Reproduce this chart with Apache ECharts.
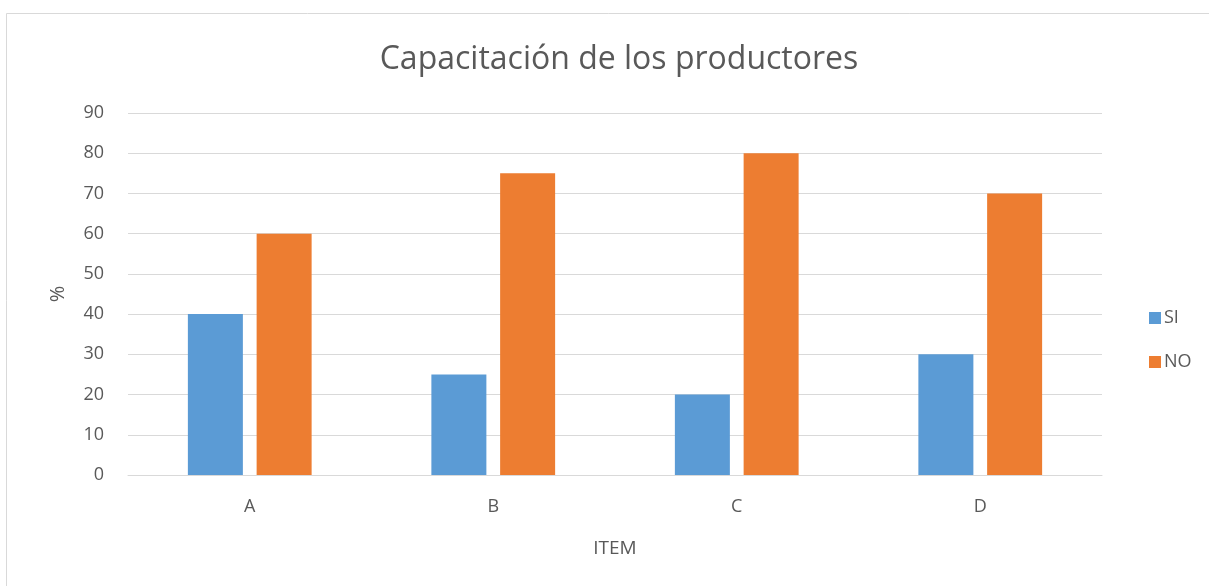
<!DOCTYPE html>
<html>
<head>
<meta charset="utf-8">
<script src="https://cdn.jsdelivr.net/npm/echarts@6/dist/echarts.min.js"></script>
<style>
  html, body { margin: 0; padding: 0; background: #ffffff; }
  #chart { width: 1209px; height: 586px; }
</style>
</head>
<body>
<div id="chart"></div>
<script>
// Training of producers: share answering SI / NO per item (%)
const categories = ['A', 'B', 'C', 'D'];
const siValues = [40, 25, 20, 30];
const noValues = [60, 75, 80, 70];
const seriesNames = ['SI', 'NO'];

const textColor = '#595959';
const fontFamily = '"Open Sans", "Liberation Sans", sans-serif';

const chart = echarts.init(document.getElementById('chart'));
chart.setOption({
  backgroundColor: '#ffffff',
  animation: false,
  textStyle: { fontFamily: fontFamily, color: textColor },
  graphic: [{
    type: 'rect',
    shape: { x: 6.5, y: 13.5, width: 1220, height: 600 },
    style: { fill: 'none', stroke: '#d9d9d9', lineWidth: 1 },
    silent: true,
    z: -1
  }],
  title: {
    text: 'Capacitación de los productores',
    left: 614,
    textAlign: 'center',
    top: 39,
    textStyle: { fontFamily: fontFamily, fontSize: 32, fontWeight: 'normal', color: textColor }
  },
  legend: {
    orient: 'vertical',
    left: 1144,
    top: 304,
    itemWidth: 12,
    itemHeight: 12,
    itemGap: 26,
    icon: 'rect',
    data: seriesNames,
    textStyle: { fontFamily: fontFamily, fontSize: 18, color: textColor, padding: [0, 0, 0, -2] }
  },
  grid: { left: 128, right: 107, top: 113, bottom: 111, containLabel: false },
  xAxis: {
    type: 'category',
    data: categories,
    name: 'ITEM',
    nameLocation: 'middle',
    nameGap: 64,
    nameTextStyle: { fontFamily: fontFamily, fontSize: 19, color: textColor },
    axisLine: { lineStyle: { color: '#d9d9d9', width: 1 } },
    axisTick: { show: false },
    axisLabel: { fontFamily: fontFamily, fontSize: 18, color: textColor, margin: 23 }
  },
  yAxis: {
    type: 'value',
    min: 0,
    max: 90,
    interval: 10,
    name: '%',
    nameLocation: 'middle',
    nameGap: 60,
    nameRotate: 90,
    nameTextStyle: { fontFamily: fontFamily, fontSize: 20, color: textColor },
    axisLine: { show: false },
    axisTick: { show: false },
    axisLabel: { fontFamily: fontFamily, fontSize: 18, color: textColor, margin: 24 },
    splitLine: { lineStyle: { color: '#d9d9d9', width: 1 } }
  },
  series: [
    {
      name: seriesNames[0],
      type: 'bar',
      data: siValues,
      barWidth: 55,
      barGap: '25%',
      itemStyle: { color: '#5b9bd5' }
    },
    {
      name: seriesNames[1],
      type: 'bar',
      data: noValues,
      barWidth: 55,
      barGap: '25%',
      itemStyle: { color: '#ed7d31' }
    }
  ]
});
</script>
</body>
</html>
